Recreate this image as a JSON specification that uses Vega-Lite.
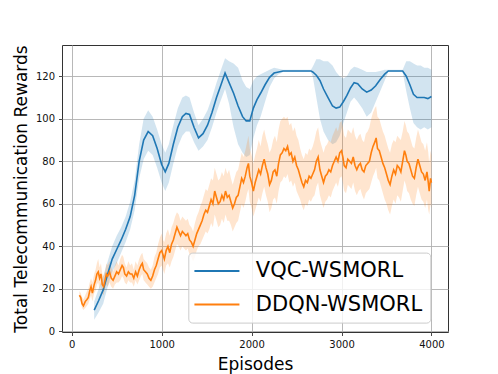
{
  "$schema": "https://vega.github.io/schema/vega-lite/v6.json",
  "width": 386,
  "height": 287,
  "autosize": "none",
  "padding": {"left": 62, "top": 45, "right": 50, "bottom": 42},
  "background": "white",
  "config": {
    "font": "DejaVu Sans",
    "view": {"stroke": "#333333", "strokeWidth": 1},
    "axis": {
      "domain": false,
      "grid": true,
      "gridColor": "#b0b0b0",
      "gridWidth": 0.9,
      "tickColor": "#333333",
      "tickSize": 3.5,
      "tickWidth": 0.9,
      "labelFont": "DejaVu Sans",
      "labelFontSize": 10,
      "labelColor": "#111111",
      "labelPadding": 4,
      "titleFont": "DejaVu Sans",
      "titleFontSize": 17,
      "titleFontWeight": "normal",
      "titleColor": "#000000"
    }
  },
  "data": {"values": [
    {"m":"VQC-WSMORL","x":250,"y":10,"lo":5.5,"hi":14},
    {"m":"VQC-WSMORL","x":300,"y":14.5,"lo":9,"hi":20},
    {"m":"VQC-WSMORL","x":350,"y":19.5,"lo":13,"hi":26},
    {"m":"VQC-WSMORL","x":400,"y":27,"lo":21,"hi":33},
    {"m":"VQC-WSMORL","x":450,"y":34,"lo":28,"hi":40},
    {"m":"VQC-WSMORL","x":500,"y":38.5,"lo":32,"hi":45},
    {"m":"VQC-WSMORL","x":550,"y":43,"lo":37,"hi":49},
    {"m":"VQC-WSMORL","x":600,"y":48,"lo":42,"hi":54},
    {"m":"VQC-WSMORL","x":650,"y":54,"lo":48,"hi":61},
    {"m":"VQC-WSMORL","x":700,"y":64,"lo":57,"hi":71},
    {"m":"VQC-WSMORL","x":750,"y":80,"lo":72,"hi":88},
    {"m":"VQC-WSMORL","x":800,"y":90,"lo":81,"hi":100},
    {"m":"VQC-WSMORL","x":850,"y":94,"lo":85,"hi":104},
    {"m":"VQC-WSMORL","x":900,"y":92,"lo":83,"hi":101},
    {"m":"VQC-WSMORL","x":950,"y":86,"lo":77,"hi":95},
    {"m":"VQC-WSMORL","x":1000,"y":78.5,"lo":70,"hi":88},
    {"m":"VQC-WSMORL","x":1040,"y":75,"lo":66,"hi":84},
    {"m":"VQC-WSMORL","x":1080,"y":79,"lo":70,"hi":88},
    {"m":"VQC-WSMORL","x":1130,"y":88,"lo":79,"hi":97},
    {"m":"VQC-WSMORL","x":1180,"y":96,"lo":87,"hi":105},
    {"m":"VQC-WSMORL","x":1230,"y":101,"lo":92,"hi":110},
    {"m":"VQC-WSMORL","x":1270,"y":102.5,"lo":94,"hi":111},
    {"m":"VQC-WSMORL","x":1310,"y":102,"lo":94,"hi":110},
    {"m":"VQC-WSMORL","x":1360,"y":96,"lo":89,"hi":103},
    {"m":"VQC-WSMORL","x":1410,"y":91,"lo":85,"hi":97},
    {"m":"VQC-WSMORL","x":1460,"y":93,"lo":87,"hi":100},
    {"m":"VQC-WSMORL","x":1510,"y":97,"lo":90,"hi":104},
    {"m":"VQC-WSMORL","x":1560,"y":103,"lo":96,"hi":110},
    {"m":"VQC-WSMORL","x":1610,"y":110,"lo":103,"hi":117},
    {"m":"VQC-WSMORL","x":1660,"y":116,"lo":109,"hi":123},
    {"m":"VQC-WSMORL","x":1705,"y":121.5,"lo":114,"hi":128.5},
    {"m":"VQC-WSMORL","x":1750,"y":117,"lo":107,"hi":127},
    {"m":"VQC-WSMORL","x":1800,"y":112,"lo":96,"hi":126},
    {"m":"VQC-WSMORL","x":1850,"y":106,"lo":88,"hi":124},
    {"m":"VQC-WSMORL","x":1900,"y":101,"lo":84,"hi":118},
    {"m":"VQC-WSMORL","x":1940,"y":99,"lo":82,"hi":115},
    {"m":"VQC-WSMORL","x":1980,"y":99,"lo":83,"hi":114},
    {"m":"VQC-WSMORL","x":2020,"y":105,"lo":91,"hi":118},
    {"m":"VQC-WSMORL","x":2060,"y":109,"lo":97,"hi":120},
    {"m":"VQC-WSMORL","x":2100,"y":112,"lo":101,"hi":121},
    {"m":"VQC-WSMORL","x":2150,"y":116,"lo":108,"hi":122},
    {"m":"VQC-WSMORL","x":2200,"y":119.5,"lo":115,"hi":123},
    {"m":"VQC-WSMORL","x":2250,"y":121.5,"lo":119,"hi":124},
    {"m":"VQC-WSMORL","x":2300,"y":122,"lo":121,"hi":123.5},
    {"m":"VQC-WSMORL","x":2350,"y":122.5,"lo":122,"hi":123},
    {"m":"VQC-WSMORL","x":2660,"y":122.5,"lo":122,"hi":123},
    {"m":"VQC-WSMORL","x":2680,"y":122,"lo":120,"hi":124.5},
    {"m":"VQC-WSMORL","x":2720,"y":120.5,"lo":110,"hi":128},
    {"m":"VQC-WSMORL","x":2760,"y":118,"lo":100,"hi":128},
    {"m":"VQC-WSMORL","x":2800,"y":114,"lo":94,"hi":127},
    {"m":"VQC-WSMORL","x":2850,"y":110,"lo":90,"hi":127},
    {"m":"VQC-WSMORL","x":2900,"y":106,"lo":88,"hi":125},
    {"m":"VQC-WSMORL","x":2940,"y":105,"lo":89,"hi":122},
    {"m":"VQC-WSMORL","x":2980,"y":105.5,"lo":92,"hi":120},
    {"m":"VQC-WSMORL","x":3020,"y":108,"lo":98,"hi":119},
    {"m":"VQC-WSMORL","x":3060,"y":111,"lo":103,"hi":120},
    {"m":"VQC-WSMORL","x":3100,"y":114.5,"lo":108,"hi":123},
    {"m":"VQC-WSMORL","x":3140,"y":117,"lo":110,"hi":124.5},
    {"m":"VQC-WSMORL","x":3180,"y":116.5,"lo":108,"hi":124},
    {"m":"VQC-WSMORL","x":3230,"y":114,"lo":105,"hi":123},
    {"m":"VQC-WSMORL","x":3280,"y":112.5,"lo":101,"hi":122},
    {"m":"VQC-WSMORL","x":3330,"y":113.5,"lo":103,"hi":122},
    {"m":"VQC-WSMORL","x":3380,"y":115.5,"lo":108,"hi":122},
    {"m":"VQC-WSMORL","x":3430,"y":118.5,"lo":113,"hi":122.5},
    {"m":"VQC-WSMORL","x":3480,"y":121,"lo":118,"hi":123},
    {"m":"VQC-WSMORL","x":3520,"y":122.5,"lo":122,"hi":123},
    {"m":"VQC-WSMORL","x":3680,"y":122.5,"lo":122,"hi":123},
    {"m":"VQC-WSMORL","x":3720,"y":120,"lo":113,"hi":127},
    {"m":"VQC-WSMORL","x":3760,"y":116,"lo":105,"hi":127},
    {"m":"VQC-WSMORL","x":3800,"y":111.5,"lo":98,"hi":126},
    {"m":"VQC-WSMORL","x":3840,"y":110,"lo":96,"hi":125},
    {"m":"VQC-WSMORL","x":3880,"y":110,"lo":95,"hi":125},
    {"m":"VQC-WSMORL","x":3920,"y":110,"lo":96,"hi":124},
    {"m":"VQC-WSMORL","x":3960,"y":109.5,"lo":95,"hi":124},
    {"m":"VQC-WSMORL","x":4000,"y":110.5,"lo":96,"hi":123},
    {"m":"DDQN-WSMORL","x":85,"y":17,"lo":15,"hi":19},
    {"m":"DDQN-WSMORL","x":100,"y":16,"lo":14,"hi":18},
    {"m":"DDQN-WSMORL","x":115,"y":13,"lo":11,"hi":16},
    {"m":"DDQN-WSMORL","x":130,"y":12,"lo":10,"hi":15},
    {"m":"DDQN-WSMORL","x":150,"y":14,"lo":11,"hi":17},
    {"m":"DDQN-WSMORL","x":170,"y":15,"lo":12,"hi":19},
    {"m":"DDQN-WSMORL","x":185,"y":16,"lo":13,"hi":20},
    {"m":"DDQN-WSMORL","x":200,"y":19,"lo":15,"hi":23},
    {"m":"DDQN-WSMORL","x":215,"y":21,"lo":17,"hi":25},
    {"m":"DDQN-WSMORL","x":230,"y":18,"lo":14,"hi":23},
    {"m":"DDQN-WSMORL","x":250,"y":22,"lo":18,"hi":27},
    {"m":"DDQN-WSMORL","x":265,"y":24,"lo":19,"hi":29},
    {"m":"DDQN-WSMORL","x":280,"y":27,"lo":22,"hi":32},
    {"m":"DDQN-WSMORL","x":295,"y":28,"lo":23,"hi":34},
    {"m":"DDQN-WSMORL","x":310,"y":25,"lo":20,"hi":30},
    {"m":"DDQN-WSMORL","x":325,"y":27,"lo":22,"hi":32},
    {"m":"DDQN-WSMORL","x":340,"y":22,"lo":18,"hi":27},
    {"m":"DDQN-WSMORL","x":355,"y":21,"lo":17,"hi":26},
    {"m":"DDQN-WSMORL","x":370,"y":24,"lo":20,"hi":28},
    {"m":"DDQN-WSMORL","x":385,"y":27,"lo":22,"hi":32},
    {"m":"DDQN-WSMORL","x":400,"y":26,"lo":21,"hi":31},
    {"m":"DDQN-WSMORL","x":420,"y":28,"lo":23,"hi":33},
    {"m":"DDQN-WSMORL","x":440,"y":25,"lo":21,"hi":30},
    {"m":"DDQN-WSMORL","x":460,"y":24,"lo":20,"hi":28},
    {"m":"DDQN-WSMORL","x":480,"y":26,"lo":22,"hi":31},
    {"m":"DDQN-WSMORL","x":500,"y":28,"lo":23,"hi":33},
    {"m":"DDQN-WSMORL","x":520,"y":27,"lo":23,"hi":31},
    {"m":"DDQN-WSMORL","x":540,"y":29,"lo":24,"hi":34},
    {"m":"DDQN-WSMORL","x":560,"y":31,"lo":26,"hi":36},
    {"m":"DDQN-WSMORL","x":575,"y":30,"lo":25,"hi":35},
    {"m":"DDQN-WSMORL","x":590,"y":27,"lo":23,"hi":32},
    {"m":"DDQN-WSMORL","x":610,"y":26,"lo":22,"hi":30},
    {"m":"DDQN-WSMORL","x":630,"y":28,"lo":24,"hi":33},
    {"m":"DDQN-WSMORL","x":650,"y":27,"lo":23,"hi":31},
    {"m":"DDQN-WSMORL","x":670,"y":27,"lo":23,"hi":32},
    {"m":"DDQN-WSMORL","x":690,"y":25,"lo":21,"hi":29},
    {"m":"DDQN-WSMORL","x":710,"y":28,"lo":24,"hi":33},
    {"m":"DDQN-WSMORL","x":730,"y":26,"lo":22,"hi":31},
    {"m":"DDQN-WSMORL","x":750,"y":29,"lo":24,"hi":34},
    {"m":"DDQN-WSMORL","x":770,"y":31,"lo":26,"hi":36},
    {"m":"DDQN-WSMORL","x":785,"y":32,"lo":27,"hi":37},
    {"m":"DDQN-WSMORL","x":800,"y":29,"lo":24,"hi":34},
    {"m":"DDQN-WSMORL","x":820,"y":28,"lo":23,"hi":33},
    {"m":"DDQN-WSMORL","x":840,"y":27,"lo":22,"hi":32},
    {"m":"DDQN-WSMORL","x":860,"y":25,"lo":21,"hi":30},
    {"m":"DDQN-WSMORL","x":880,"y":24,"lo":20,"hi":29},
    {"m":"DDQN-WSMORL","x":900,"y":26,"lo":21,"hi":31},
    {"m":"DDQN-WSMORL","x":920,"y":29,"lo":23,"hi":35},
    {"m":"DDQN-WSMORL","x":940,"y":31,"lo":25,"hi":37},
    {"m":"DDQN-WSMORL","x":960,"y":34,"lo":27,"hi":41},
    {"m":"DDQN-WSMORL","x":980,"y":37,"lo":30,"hi":44},
    {"m":"DDQN-WSMORL","x":1000,"y":38,"lo":31,"hi":46},
    {"m":"DDQN-WSMORL","x":1015,"y":36,"lo":29,"hi":43},
    {"m":"DDQN-WSMORL","x":1030,"y":34,"lo":27,"hi":42},
    {"m":"DDQN-WSMORL","x":1050,"y":38,"lo":31,"hi":46},
    {"m":"DDQN-WSMORL","x":1070,"y":40,"lo":32,"hi":48},
    {"m":"DDQN-WSMORL","x":1090,"y":37,"lo":30,"hi":45},
    {"m":"DDQN-WSMORL","x":1110,"y":41,"lo":33,"hi":49},
    {"m":"DDQN-WSMORL","x":1130,"y":43,"lo":35,"hi":51},
    {"m":"DDQN-WSMORL","x":1150,"y":46,"lo":38,"hi":54},
    {"m":"DDQN-WSMORL","x":1170,"y":49,"lo":41,"hi":56},
    {"m":"DDQN-WSMORL","x":1190,"y":47,"lo":40,"hi":55},
    {"m":"DDQN-WSMORL","x":1210,"y":45,"lo":38,"hi":52},
    {"m":"DDQN-WSMORL","x":1230,"y":47,"lo":40,"hi":54},
    {"m":"DDQN-WSMORL","x":1250,"y":46,"lo":39,"hi":53},
    {"m":"DDQN-WSMORL","x":1270,"y":45,"lo":38,"hi":52},
    {"m":"DDQN-WSMORL","x":1290,"y":46,"lo":39,"hi":53},
    {"m":"DDQN-WSMORL","x":1310,"y":43,"lo":36,"hi":50},
    {"m":"DDQN-WSMORL","x":1330,"y":42,"lo":35,"hi":49},
    {"m":"DDQN-WSMORL","x":1350,"y":40,"lo":33,"hi":47},
    {"m":"DDQN-WSMORL","x":1370,"y":43,"lo":35,"hi":51},
    {"m":"DDQN-WSMORL","x":1390,"y":46,"lo":38,"hi":54},
    {"m":"DDQN-WSMORL","x":1410,"y":48,"lo":40,"hi":56},
    {"m":"DDQN-WSMORL","x":1430,"y":50,"lo":41,"hi":59},
    {"m":"DDQN-WSMORL","x":1450,"y":52,"lo":43,"hi":61},
    {"m":"DDQN-WSMORL","x":1470,"y":55,"lo":45,"hi":64},
    {"m":"DDQN-WSMORL","x":1490,"y":57,"lo":47,"hi":67},
    {"m":"DDQN-WSMORL","x":1510,"y":56,"lo":46,"hi":66},
    {"m":"DDQN-WSMORL","x":1530,"y":59,"lo":48,"hi":69},
    {"m":"DDQN-WSMORL","x":1550,"y":62,"lo":51,"hi":72},
    {"m":"DDQN-WSMORL","x":1570,"y":60,"lo":49,"hi":71},
    {"m":"DDQN-WSMORL","x":1590,"y":66,"lo":55,"hi":77},
    {"m":"DDQN-WSMORL","x":1610,"y":63,"lo":52,"hi":74},
    {"m":"DDQN-WSMORL","x":1630,"y":60,"lo":49,"hi":71},
    {"m":"DDQN-WSMORL","x":1650,"y":61,"lo":50,"hi":72},
    {"m":"DDQN-WSMORL","x":1670,"y":64,"lo":53,"hi":75},
    {"m":"DDQN-WSMORL","x":1690,"y":62,"lo":51,"hi":73},
    {"m":"DDQN-WSMORL","x":1710,"y":66,"lo":55,"hi":77},
    {"m":"DDQN-WSMORL","x":1730,"y":63,"lo":52,"hi":74},
    {"m":"DDQN-WSMORL","x":1750,"y":64,"lo":52,"hi":76},
    {"m":"DDQN-WSMORL","x":1770,"y":61,"lo":50,"hi":72},
    {"m":"DDQN-WSMORL","x":1790,"y":58,"lo":47,"hi":69},
    {"m":"DDQN-WSMORL","x":1810,"y":60,"lo":49,"hi":72},
    {"m":"DDQN-WSMORL","x":1830,"y":63,"lo":51,"hi":75},
    {"m":"DDQN-WSMORL","x":1850,"y":64,"lo":52,"hi":76},
    {"m":"DDQN-WSMORL","x":1870,"y":68,"lo":56,"hi":80},
    {"m":"DDQN-WSMORL","x":1890,"y":72,"lo":60,"hi":84},
    {"m":"DDQN-WSMORL","x":1910,"y":70,"lo":58,"hi":82},
    {"m":"DDQN-WSMORL","x":1930,"y":73,"lo":61,"hi":85},
    {"m":"DDQN-WSMORL","x":1950,"y":77,"lo":65,"hi":89},
    {"m":"DDQN-WSMORL","x":1965,"y":79,"lo":67,"hi":92},
    {"m":"DDQN-WSMORL","x":1980,"y":73,"lo":61,"hi":86},
    {"m":"DDQN-WSMORL","x":2000,"y":70,"lo":58,"hi":83},
    {"m":"DDQN-WSMORL","x":2020,"y":66,"lo":54,"hi":79},
    {"m":"DDQN-WSMORL","x":2040,"y":70,"lo":57,"hi":83},
    {"m":"DDQN-WSMORL","x":2060,"y":73,"lo":60,"hi":86},
    {"m":"DDQN-WSMORL","x":2080,"y":76,"lo":63,"hi":90},
    {"m":"DDQN-WSMORL","x":2100,"y":74,"lo":61,"hi":87},
    {"m":"DDQN-WSMORL","x":2120,"y":78,"lo":65,"hi":92},
    {"m":"DDQN-WSMORL","x":2140,"y":81,"lo":68,"hi":95},
    {"m":"DDQN-WSMORL","x":2160,"y":77,"lo":64,"hi":91},
    {"m":"DDQN-WSMORL","x":2180,"y":74,"lo":61,"hi":88},
    {"m":"DDQN-WSMORL","x":2200,"y":69,"lo":56,"hi":84},
    {"m":"DDQN-WSMORL","x":2220,"y":71,"lo":58,"hi":86},
    {"m":"DDQN-WSMORL","x":2240,"y":75,"lo":62,"hi":90},
    {"m":"DDQN-WSMORL","x":2260,"y":76,"lo":63,"hi":92},
    {"m":"DDQN-WSMORL","x":2280,"y":73,"lo":60,"hi":89},
    {"m":"DDQN-WSMORL","x":2300,"y":79,"lo":66,"hi":95},
    {"m":"DDQN-WSMORL","x":2320,"y":83,"lo":70,"hi":99},
    {"m":"DDQN-WSMORL","x":2340,"y":84,"lo":71,"hi":100},
    {"m":"DDQN-WSMORL","x":2360,"y":86,"lo":73,"hi":101},
    {"m":"DDQN-WSMORL","x":2380,"y":85,"lo":72,"hi":100},
    {"m":"DDQN-WSMORL","x":2400,"y":87,"lo":74,"hi":101},
    {"m":"DDQN-WSMORL","x":2420,"y":83,"lo":70,"hi":97},
    {"m":"DDQN-WSMORL","x":2440,"y":84,"lo":71,"hi":98},
    {"m":"DDQN-WSMORL","x":2460,"y":80,"lo":68,"hi":94},
    {"m":"DDQN-WSMORL","x":2480,"y":82,"lo":70,"hi":96},
    {"m":"DDQN-WSMORL","x":2500,"y":78,"lo":66,"hi":92},
    {"m":"DDQN-WSMORL","x":2520,"y":76,"lo":64,"hi":90},
    {"m":"DDQN-WSMORL","x":2540,"y":73,"lo":62,"hi":86},
    {"m":"DDQN-WSMORL","x":2560,"y":70,"lo":59,"hi":83},
    {"m":"DDQN-WSMORL","x":2580,"y":68,"lo":57,"hi":81},
    {"m":"DDQN-WSMORL","x":2600,"y":71,"lo":60,"hi":84},
    {"m":"DDQN-WSMORL","x":2620,"y":70,"lo":59,"hi":83},
    {"m":"DDQN-WSMORL","x":2640,"y":73,"lo":62,"hi":86},
    {"m":"DDQN-WSMORL","x":2660,"y":72,"lo":61,"hi":85},
    {"m":"DDQN-WSMORL","x":2680,"y":74,"lo":63,"hi":87},
    {"m":"DDQN-WSMORL","x":2700,"y":76,"lo":64,"hi":90},
    {"m":"DDQN-WSMORL","x":2720,"y":80,"lo":68,"hi":94},
    {"m":"DDQN-WSMORL","x":2740,"y":82,"lo":70,"hi":96},
    {"m":"DDQN-WSMORL","x":2760,"y":76,"lo":64,"hi":90},
    {"m":"DDQN-WSMORL","x":2780,"y":73,"lo":61,"hi":87},
    {"m":"DDQN-WSMORL","x":2800,"y":70,"lo":58,"hi":84},
    {"m":"DDQN-WSMORL","x":2820,"y":73,"lo":61,"hi":87},
    {"m":"DDQN-WSMORL","x":2840,"y":74,"lo":62,"hi":88},
    {"m":"DDQN-WSMORL","x":2860,"y":76,"lo":64,"hi":90},
    {"m":"DDQN-WSMORL","x":2880,"y":75,"lo":63,"hi":89},
    {"m":"DDQN-WSMORL","x":2900,"y":78,"lo":66,"hi":92},
    {"m":"DDQN-WSMORL","x":2920,"y":80,"lo":68,"hi":94},
    {"m":"DDQN-WSMORL","x":2940,"y":82,"lo":70,"hi":96},
    {"m":"DDQN-WSMORL","x":2960,"y":80,"lo":68,"hi":94},
    {"m":"DDQN-WSMORL","x":2980,"y":84,"lo":72,"hi":98},
    {"m":"DDQN-WSMORL","x":3000,"y":85,"lo":73,"hi":99},
    {"m":"DDQN-WSMORL","x":3015,"y":82,"lo":70,"hi":96},
    {"m":"DDQN-WSMORL","x":3030,"y":78,"lo":66,"hi":92},
    {"m":"DDQN-WSMORL","x":3050,"y":77,"lo":65,"hi":91},
    {"m":"DDQN-WSMORL","x":3070,"y":81,"lo":69,"hi":95},
    {"m":"DDQN-WSMORL","x":3090,"y":80,"lo":68,"hi":94},
    {"m":"DDQN-WSMORL","x":3110,"y":79,"lo":67,"hi":93},
    {"m":"DDQN-WSMORL","x":3130,"y":82,"lo":70,"hi":96},
    {"m":"DDQN-WSMORL","x":3150,"y":78,"lo":66,"hi":92},
    {"m":"DDQN-WSMORL","x":3170,"y":76,"lo":64,"hi":90},
    {"m":"DDQN-WSMORL","x":3190,"y":78,"lo":66,"hi":92},
    {"m":"DDQN-WSMORL","x":3210,"y":79,"lo":67,"hi":93},
    {"m":"DDQN-WSMORL","x":3230,"y":76,"lo":64,"hi":90},
    {"m":"DDQN-WSMORL","x":3250,"y":75,"lo":62,"hi":89},
    {"m":"DDQN-WSMORL","x":3270,"y":78,"lo":65,"hi":93},
    {"m":"DDQN-WSMORL","x":3290,"y":79,"lo":66,"hi":94},
    {"m":"DDQN-WSMORL","x":3310,"y":80,"lo":67,"hi":96},
    {"m":"DDQN-WSMORL","x":3330,"y":84,"lo":70,"hi":100},
    {"m":"DDQN-WSMORL","x":3350,"y":87,"lo":73,"hi":103},
    {"m":"DDQN-WSMORL","x":3370,"y":89,"lo":75,"hi":105},
    {"m":"DDQN-WSMORL","x":3385,"y":91,"lo":77,"hi":106},
    {"m":"DDQN-WSMORL","x":3400,"y":86,"lo":72,"hi":101},
    {"m":"DDQN-WSMORL","x":3420,"y":85,"lo":71,"hi":100},
    {"m":"DDQN-WSMORL","x":3440,"y":82,"lo":68,"hi":97},
    {"m":"DDQN-WSMORL","x":3460,"y":79,"lo":65,"hi":94},
    {"m":"DDQN-WSMORL","x":3480,"y":77,"lo":62,"hi":92},
    {"m":"DDQN-WSMORL","x":3500,"y":74,"lo":60,"hi":89},
    {"m":"DDQN-WSMORL","x":3520,"y":71,"lo":57,"hi":86},
    {"m":"DDQN-WSMORL","x":3540,"y":69,"lo":55,"hi":84},
    {"m":"DDQN-WSMORL","x":3560,"y":73,"lo":59,"hi":88},
    {"m":"DDQN-WSMORL","x":3580,"y":76,"lo":62,"hi":90},
    {"m":"DDQN-WSMORL","x":3600,"y":74,"lo":60,"hi":89},
    {"m":"DDQN-WSMORL","x":3620,"y":78,"lo":64,"hi":92},
    {"m":"DDQN-WSMORL","x":3640,"y":77,"lo":63,"hi":91},
    {"m":"DDQN-WSMORL","x":3660,"y":75,"lo":61,"hi":90},
    {"m":"DDQN-WSMORL","x":3680,"y":80,"lo":66,"hi":94},
    {"m":"DDQN-WSMORL","x":3700,"y":85,"lo":71,"hi":99},
    {"m":"DDQN-WSMORL","x":3715,"y":83,"lo":69,"hi":97},
    {"m":"DDQN-WSMORL","x":3730,"y":80,"lo":66,"hi":94},
    {"m":"DDQN-WSMORL","x":3750,"y":79,"lo":65,"hi":93},
    {"m":"DDQN-WSMORL","x":3770,"y":76,"lo":62,"hi":90},
    {"m":"DDQN-WSMORL","x":3790,"y":73,"lo":60,"hi":87},
    {"m":"DDQN-WSMORL","x":3810,"y":72,"lo":59,"hi":86},
    {"m":"DDQN-WSMORL","x":3830,"y":77,"lo":64,"hi":91},
    {"m":"DDQN-WSMORL","x":3850,"y":81,"lo":68,"hi":95},
    {"m":"DDQN-WSMORL","x":3870,"y":78,"lo":65,"hi":92},
    {"m":"DDQN-WSMORL","x":3890,"y":75,"lo":62,"hi":89},
    {"m":"DDQN-WSMORL","x":3910,"y":74,"lo":61,"hi":88},
    {"m":"DDQN-WSMORL","x":3930,"y":71,"lo":58,"hi":85},
    {"m":"DDQN-WSMORL","x":3950,"y":75,"lo":62,"hi":89},
    {"m":"DDQN-WSMORL","x":3965,"y":70,"lo":57,"hi":84},
    {"m":"DDQN-WSMORL","x":3975,"y":66,"lo":55,"hi":79},
    {"m":"DDQN-WSMORL","x":3990,"y":72,"lo":60,"hi":85},
    {"m":"DDQN-WSMORL","x":4000,"y":70,"lo":58,"hi":83}
  ]},
  "encoding": {
    "x": {
      "field": "x", "type": "quantitative",
      "scale": {"domain": [-108, 4184], "nice": false, "zero": false},
      "axis": {"values": [0, 1000, 2000, 3000, 4000], "format": "d", "title": "Episodes", "titlePadding": 7}
    },
    "color": {
      "field": "m", "type": "nominal",
      "scale": {"domain": ["VQC-WSMORL", "DDQN-WSMORL"], "range": ["#1f77b4", "#ff7f0e"]},
      "legend": {
        "title": null,
        "orient": "none",
        "legendX": 126.3,
        "legendY": 207.6,
        "symbolType": "M-2.2,0H5.8",
        "symbolSize": 126.6,
        "symbolStrokeWidth": 2,
        "symbolOpacity": 1,
        "labelFont": "DejaVu Sans",
        "labelFontSize": 21,
        "labelColor": "#000000",
        "labelOffset": 38.5,
        "labelLimit": 400,
        "rowPadding": 11.4,
        "padding": 8,
        "fillColor": "rgba(255,255,255,0.8)",
        "strokeColor": "#cccccc",
        "cornerRadius": 4
      }
    }
  },
  "layer": [
    {
      "mark": {"type": "area", "opacity": 0.2},
      "encoding": {
        "y": {
          "field": "lo", "type": "quantitative",
          "scale": {"domain": [-0.3, 134.7], "nice": false, "zero": false},
          "axis": {"values": [0, 20, 40, 60, 80, 100, 120], "title": "Total Telecommunication Rewards", "titlePadding": 5}
        },
        "y2": {"field": "hi"}
      }
    },
    {
      "mark": {"type": "line", "strokeWidth": 1.6},
      "encoding": {
        "y": {"field": "y", "type": "quantitative"}
      }
    }
  ]
}
